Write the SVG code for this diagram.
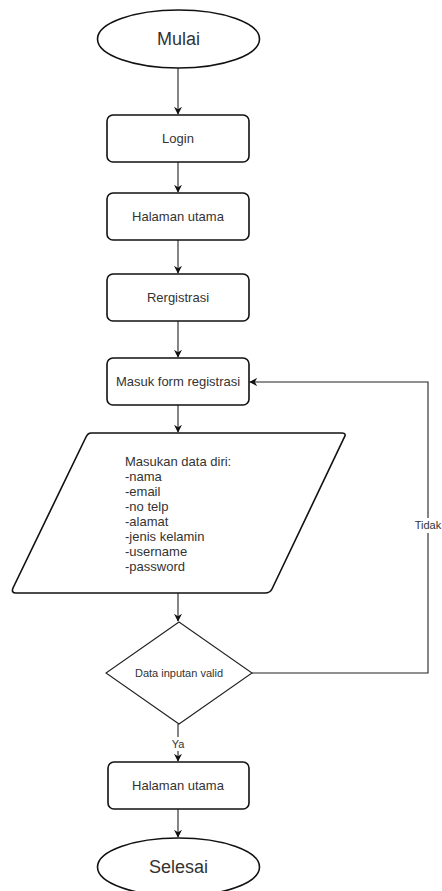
<svg xmlns="http://www.w3.org/2000/svg" width="442" height="891" viewBox="0 0 442 891">
<style>
.s{fill:#fff;stroke:#111;stroke-width:1.6}
.d{fill:#fff;stroke:#222;stroke-width:1.1}
.c{fill:none;stroke:#222;stroke-width:1.1}
text{font-family:"Liberation Sans",Arial,sans-serif;fill:#333}
.t13{font-size:13px}
.t18{font-size:18px}
.t11{font-size:11px}
</style>
<defs>
<marker id="ah" viewBox="0 0 10 10" refX="9" refY="5" markerWidth="8" markerHeight="8" markerUnits="userSpaceOnUse" orient="auto">
<path d="M0,0 L10,5 L0,10 L3,5 Z" fill="#111"/>
</marker>
</defs>
<rect width="442" height="891" fill="#fff"/>
<g id="connectors">
<line class="c" x1="178" y1="68" x2="178" y2="114" marker-end="url(#ah)"/>
<line class="c" x1="178" y1="162" x2="178" y2="192" marker-end="url(#ah)"/>
<line class="c" x1="178" y1="240" x2="178" y2="273" marker-end="url(#ah)"/>
<line class="c" x1="178" y1="321" x2="178" y2="357" marker-end="url(#ah)"/>
<line class="c" x1="178" y1="405" x2="178" y2="432" marker-end="url(#ah)"/>
<line class="c" x1="178" y1="593" x2="178" y2="621" marker-end="url(#ah)"/>
<polyline class="c" points="252,673 428,673 428,382 250,382" marker-end="url(#ah)"/>
<line class="c" x1="178" y1="724" x2="178" y2="761" marker-end="url(#ah)"/>
<line class="c" x1="178" y1="809" x2="178" y2="837" marker-end="url(#ah)"/>
<rect x="413" y="518" width="29" height="15" fill="#fff"/>
<text class="t11" x="428" y="529" text-anchor="middle">Tidak</text>
<rect x="171" y="737" width="15" height="14" fill="#fff"/>
<text class="t11" x="178" y="748" text-anchor="middle">Ya</text>
</g>
<g id="mulai">
<ellipse class="s" cx="178.5" cy="39" rx="81" ry="29"/>
<text class="t18" x="178.5" y="45" text-anchor="middle">Mulai</text>
</g>
<g id="login">
<rect class="s" x="107" y="115" width="142" height="47" rx="6"/>
<text class="t13" x="178" y="143" text-anchor="middle">Login</text>
</g>
<g id="halaman1">
<rect class="s" x="107" y="193" width="142" height="47" rx="6"/>
<text class="t13" x="178" y="221" text-anchor="middle">Halaman utama</text>
</g>
<g id="registrasi">
<rect class="s" x="107" y="274" width="142" height="47" rx="6"/>
<text class="t13" x="178" y="302" text-anchor="middle">Rergistrasi</text>
</g>
<g id="form">
<rect class="s" x="107" y="358" width="142" height="47" rx="6"/>
<text class="t13" x="178" y="386" text-anchor="middle">Masuk form registrasi</text>
</g>
<g id="input">
<path class="s" d="M91,433 L342,433 Q347,433 344,438 L272,589 Q270,593 265,593 L16,593 Q11,593 13,588 L86,437 Q88,433 91,433 Z"/>
<text class="t13" x="125">
<tspan x="125" y="466">Masukan data diri:</tspan>
<tspan x="125" y="481">-nama</tspan>
<tspan x="125" y="496">-email</tspan>
<tspan x="125" y="511">-no telp</tspan>
<tspan x="125" y="526">-alamat</tspan>
<tspan x="125" y="541">-jenis kelamin</tspan>
<tspan x="125" y="556">-username</tspan>
<tspan x="125" y="571">-password</tspan>
</text>
</g>
<g id="valid">
<polygon class="d" points="179,622 252,673 179,724 106,673"/>
<text class="t11" x="179" y="677" text-anchor="middle">Data inputan valid</text>
</g>
<g id="halaman2">
<rect class="s" x="108" y="762" width="141" height="47" rx="6"/>
<text class="t13" x="178" y="790" text-anchor="middle">Halaman utama</text>
</g>
<g id="selesai">
<ellipse class="s" cx="178.5" cy="867" rx="81" ry="29"/>
<text class="t18" x="178.5" y="873" text-anchor="middle">Selesai</text>
</g>
</svg>
